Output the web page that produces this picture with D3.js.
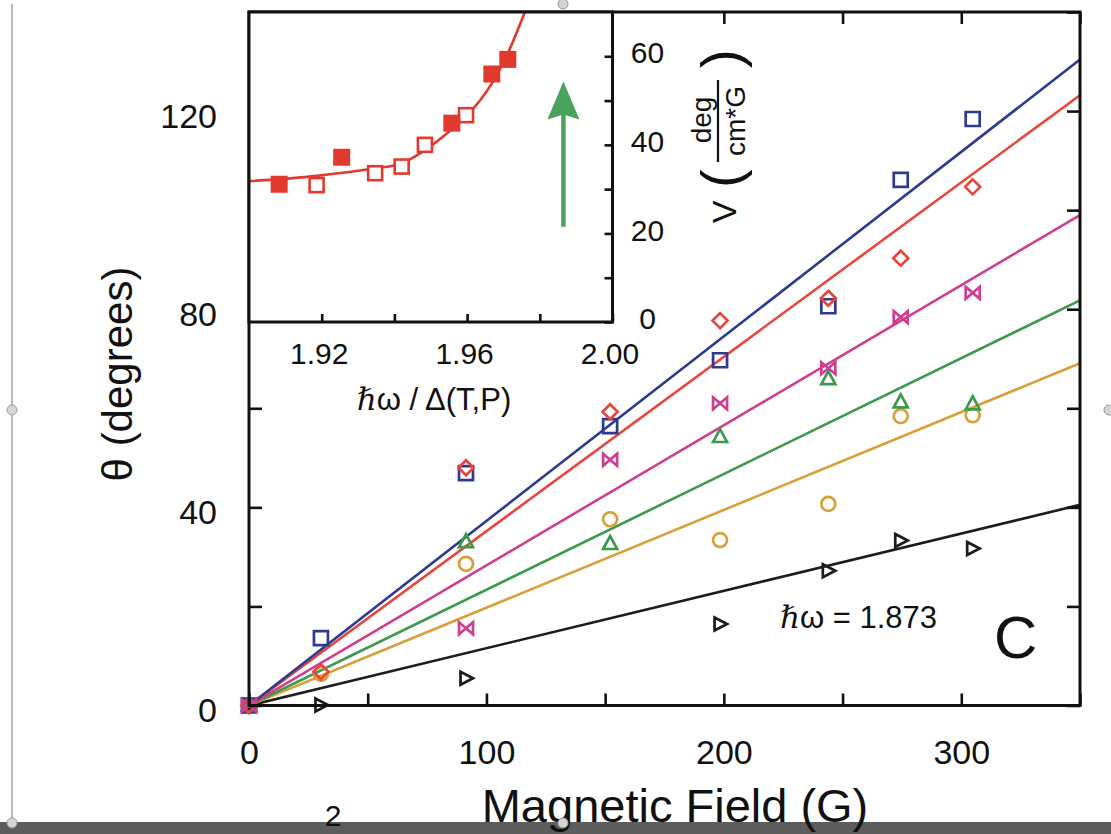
<!DOCTYPE html>
<html>
<head>
<meta charset="utf-8">
<script src="https://cdn.jsdelivr.net/npm/d3@7"></script>
<style>
  html, body { margin: 0; padding: 0; background: #fff; }
  svg { display: block; font-family: "Liberation Sans", Arial, Helvetica, sans-serif; }
</style>
</head>
<body>
<svg id="chart" width="1111" height="834"></svg>
<script>
// ---- Main panel: Faraday rotation angle vs magnetic field ----
// Blue squares
const squaresField = [0, 30.3, 91.4, 152.1, 198.4, 244, 274.5, 304.8];
const squaresTheta = [0, 13.6, 46.9, 56.4, 69.7, 80.6, 106.1, 118.4];
// Red diamonds
const diamondsField = [0, 30.3, 91.4, 152.1, 198.4, 244, 274.5, 304.8];
const diamondsTheta = [0, 6.8, 48.0, 59.3, 77.7, 82.2, 90.3, 104.7];
// Magenta bowties
const bowtiesField = [0, 91.4, 152.1, 198.4, 244, 274.5, 304.8];
const bowtiesTheta = [0, 15.6, 49.6, 61.0, 68.1, 78.4, 83.3];
// Green triangles
const trianglesField = [0, 91.4, 152.1, 198.4, 244, 274.5, 304.8];
const trianglesTheta = [0, 33.1, 32.7, 54.3, 66.0, 61.3, 60.9];
// Orange circles
const circlesField = [0, 30.3, 91.4, 152.1, 198.4, 244, 274.5, 304.8];
const circlesTheta = [0, 6.4, 28.6, 37.6, 33.4, 40.7, 58.4, 58.6];
// Black right-pointing triangles (lowest photon energy, ħω = 1.873)
const arrowsField = [0, 30.3, 91.4, 198.4, 244, 274.5, 304.8];
const arrowsTheta = [0, 0.1, 5.5, 16.45, 27.2, 33.3, 31.7];

// Linear fits through the origin: angle reached at the right edge (350 G)
const fitEndField = 350;
const fitEndTheta = { square: 130.4, diamond: 123.2, bowtie: 99.0, triangle: 81.8, circle: 69.1, arrow: 40.5 };

const fieldTicks = [0, 50, 100, 150, 200, 250, 300, 350];
const fieldLabels = [0, 100, 200, 300];
const thetaTicks = [0, 20, 40, 60, 80, 100, 120, 140];
const thetaLabels = [0, 40, 80, 120];

// ---- Inset: Verdet constant vs reduced photon energy ----
const insetFilledX = [1.9083, 1.9255, 1.9558, 1.9668, 1.9712];
const insetFilledV = [31.1, 37.2, 44.9, 56.0, 59.3];
const insetOpenX = [1.9186, 1.9347, 1.9420, 1.9484, 1.9597];
const insetOpenV = [30.9, 33.6, 35.1, 40.0, 46.7];
const insetCurveX = [1.9003, 1.9186, 1.9347, 1.9420, 1.9484, 1.9558, 1.9597, 1.9668, 1.9712, 1.9759];
const insetCurveV = [31.8, 33.0, 34.7, 35.8, 38.8, 43.5, 46.4, 53.9, 60.7, 70.0];
const insetXTicks = [1.92, 1.94, 1.96, 1.98, 2.00];
const insetXLabels = [1.92, 1.96, 2.00];
const insetYTicks = [0, 10, 20, 30, 40, 50, 60];
const insetYLabels = [0, 20, 40, 60];
const arrowX = 1.9865, arrowFrom = 21.5, arrowTo = 54.3;

const colors = {
  square: "#2e3a8f", diamond: "#e8453c", bowtie: "#cf3f8e",
  triangle: "#3b9a4b", circle: "#d9a03a", arrow: "#1c1c1c"
};

const svg = d3.select("#chart");

// Main scales
const x = d3.scaleLinear().domain([0, 350]).range([249, 1080]);
const y = d3.scaleLinear().domain([0, 140]).range([705.5, 12]);

// Editor frame decorations around the figure
svg.append("line").attr("x1", 12).attr("x2", 12).attr("y1", 4).attr("y2", 822)
  .attr("stroke", "#b9b9b9").attr("stroke-width", 2);

// Fitted lines
const fitOrder = ["arrow", "circle", "triangle", "bowtie", "diamond", "square"];
svg.append("g").selectAll("line").data(fitOrder).join("line")
  .attr("x1", x(0)).attr("y1", y(0))
  .attr("x2", x(fitEndField)).attr("y2", k => y(fitEndTheta[k]))
  .attr("stroke", k => colors[k]).attr("stroke-width", 2.6);

// Marker shapes
const shapes = {
  square: "M-7,-7H7V7H-7Z",
  diamond: "M0,-7.5L7.5,0L0,7.5L-7.5,0Z",
  bowtie: "M-7,-6L7,6L7,-6L-7,6Z",
  triangle: "M0,-7.5L7,5.5L-7,5.5Z",
  circle: "M7,0A7,7 0 1,1 -7,0A7,7 0 1,1 7,0Z",
  arrow: "M-5.5,-6.5L7,0L-5.5,6.5Z"
};
const markerSets = [
  ["arrow", arrowsField, arrowsTheta],
  ["circle", circlesField, circlesTheta],
  ["triangle", trianglesField, trianglesTheta],
  ["square", squaresField, squaresTheta],
  ["diamond", diamondsField, diamondsTheta],
  ["bowtie", bowtiesField, bowtiesTheta]
];
markerSets.forEach(([k, xs, ys]) => {
  svg.append("g").selectAll("path").data(xs.map((v, i) => [v, ys[i]])).join("path")
    .attr("d", shapes[k])
    .attr("transform", d => `translate(${x(d[0])},${y(d[1])})`)
    .attr("fill", "none").attr("stroke", colors[k]).attr("stroke-width", 2.7)
    .attr("stroke-linejoin", "miter");
});

// Main axes (inward ticks on all four sides)
function styleAxis(g) {
  g.select(".domain").remove();
  g.selectAll(".tick line").attr("stroke", "#111").attr("stroke-width", 2.6);
  g.selectAll("text").attr("fill", "#111").attr("font-size", 34)
    .attr("font-family", "Liberation Sans, Arial, sans-serif");
}
svg.append("g").attr("transform", `translate(0,${y(0)})`)
  .call(d3.axisBottom(x).tickValues(fieldTicks).tickSize(-12).tickPadding(34)
    .tickFormat(d => fieldLabels.includes(d) ? d : ""))
  .call(styleAxis);
svg.append("g").attr("transform", `translate(0,${y(140)})`)
  .call(d3.axisTop(x).tickValues(fieldTicks).tickSize(-12).tickFormat(""))
  .call(styleAxis);
svg.append("g").attr("transform", `translate(${x(0)},0)`)
  .call(d3.axisLeft(y).tickValues(thetaTicks).tickSize(-13).tickPadding(32)
    .tickFormat(d => thetaLabels.includes(d) ? d : ""))
  .call(styleAxis)
  .call(g => g.selectAll("text").attr("dy", "0.47em"));
svg.append("g").attr("transform", `translate(${x(350)},0)`)
  .call(d3.axisRight(y).tickValues(thetaTicks).tickSize(-13).tickFormat(""))
  .call(styleAxis);
svg.append("rect").attr("x", x(0)).attr("y", y(140))
  .attr("width", x(350) - x(0)).attr("height", y(0) - y(140))
  .attr("fill", "none").attr("stroke", "#111").attr("stroke-width", 3);

// Main labels
svg.append("text").attr("transform", `translate(132,374) rotate(-90)`)
  .attr("text-anchor", "middle").attr("font-size", 42).attr("fill", "#111")
  .text("θ (degrees)");
svg.append("text").attr("x", 780).attr("y", 628).attr("font-size", 31).attr("fill", "#111")
  .call(t => {
    t.append("tspan").attr("font-family", "DejaVu Serif, serif").attr("font-style", "italic").text("ℏ");
    t.append("tspan").text("ω = 1.873");
  });
svg.append("text").attr("x", 994).attr("y", 658).attr("font-size", 60).attr("fill", "#111").text("C");

// ---- Inset panel ----
const ix = d3.scaleLinear().domain([1.90, 2.00]).range([249, 612.5]);
const iy = d3.scaleLinear().domain([0, 70]).range([322, 12]);
const inset = svg.append("g");
inset.append("rect").attr("x", ix(1.90)).attr("y", iy(70))
  .attr("width", ix(2.00) - ix(1.90)).attr("height", iy(0) - iy(70)).attr("fill", "#fff");
inset.append("clipPath").attr("id", "insetClip").append("rect")
  .attr("x", ix(1.90)).attr("y", iy(70))
  .attr("width", ix(2.00) - ix(1.90)).attr("height", iy(0) - iy(70));

const curvePts = insetCurveX.map((v, i) => [v, insetCurveV[i]]);
inset.append("path").datum(curvePts)
  .attr("clip-path", "url(#insetClip)")
  .attr("d", d3.line().x(d => ix(d[0])).y(d => iy(d[1])).curve(d3.curveMonotoneX))
  .attr("fill", "none").attr("stroke", "#e2392f").attr("stroke-width", 2.6);

inset.append("g").selectAll("rect").data(insetOpenX.map((v, i) => [v, insetOpenV[i]])).join("rect")
  .attr("x", d => ix(d[0]) - 7).attr("y", d => iy(d[1]) - 7)
  .attr("width", 14).attr("height", 14)
  .attr("fill", "#fff").attr("stroke", "#e2392f").attr("stroke-width", 2.6);
inset.append("g").selectAll("rect").data(insetFilledX.map((v, i) => [v, insetFilledV[i]])).join("rect")
  .attr("x", d => ix(d[0]) - 8.5).attr("y", d => iy(d[1]) - 8.5)
  .attr("width", 17).attr("height", 17)
  .attr("fill", "#e2392f");

// Green arrow
inset.append("line").attr("x1", ix(arrowX)).attr("x2", ix(arrowX))
  .attr("y1", iy(arrowFrom)).attr("y2", iy(arrowTo) + 30)
  .attr("stroke", "#4aa35c").attr("stroke-width", 4.5);
inset.append("path")
  .attr("d", `M${ix(arrowX)},${iy(arrowTo)}L${ix(arrowX) + 16},${iy(arrowTo) + 38}L${ix(arrowX)},${iy(arrowTo) + 33}L${ix(arrowX) - 16},${iy(arrowTo) + 38}Z`)
  .attr("fill", "#4aa35c");

function styleInsetAxis(g) {
  g.select(".domain").remove();
  g.selectAll(".tick line").attr("stroke", "#111").attr("stroke-width", 2.6);
  g.selectAll("text").attr("fill", "#111").attr("font-size", 30)
    .attr("font-family", "Liberation Sans, Arial, sans-serif");
}
inset.append("g").attr("transform", `translate(0,${iy(0)})`)
  .call(d3.axisBottom(ix).tickValues(insetXTicks).tickSize(-8).tickPadding(21)
    .tickFormat(d => insetXLabels.some(v => Math.abs(v - d) < 1e-9) ? d3.format(".2f")(d) : ""))
  .call(styleInsetAxis)
  .call(g => g.selectAll("text").attr("dx", -3));
inset.append("g").attr("transform", `translate(${ix(2.00)},0)`)
  .call(d3.axisRight(iy).tickValues(insetYTicks).tickSize(-8)
    .tickFormat(d => insetYLabels.includes(d) ? d : ""))
  .call(styleInsetAxis)
  .call(g => g.selectAll("text").attr("x", 35).attr("text-anchor", "middle").attr("dy", "0.22em"));
inset.append("rect").attr("x", ix(1.90)).attr("y", iy(70))
  .attr("width", ix(2.00) - ix(1.90)).attr("height", iy(0) - iy(70))
  .attr("fill", "none").attr("stroke", "#111").attr("stroke-width", 3);

// Inset x label
svg.append("text").attr("x", 434).attr("y", 410).attr("text-anchor", "middle")
  .attr("font-size", 31).attr("fill", "#111")
  .call(t => {
    t.append("tspan").attr("font-family", "DejaVu Serif, serif").attr("font-style", "italic").text("ℏ");
    t.append("tspan").text("ω / Δ(T,P)");
  });

// Inset y label: V (deg / cm*G), read bottom to top
const vLab = svg.append("g").attr("transform", "translate(724,138) rotate(-90)").attr("fill", "#111");
vLab.append("text").attr("x", -74).attr("y", 12).attr("text-anchor", "middle").attr("font-size", 34).text("V");
vLab.append("text").attr("x", -50).attr("y", 16).attr("font-size", 56).attr("font-weight", 300).text("(");
vLab.append("text").attr("x", 18).attr("y", -13).attr("text-anchor", "middle").attr("font-size", 28).text("deg");
vLab.append("line").attr("x1", -24).attr("x2", 58).attr("y1", -6).attr("y2", -6)
  .attr("stroke", "#111").attr("stroke-width", 2.2);
vLab.append("text").attr("x", 17).attr("y", 21).attr("text-anchor", "middle").attr("font-size", 28).text("cm*G");
vLab.append("text").attr("x", 70).attr("y", 16).attr("font-size", 56).attr("font-weight", 300).text(")");

// Bottom bar of the page, axis title and page number
svg.append("rect").attr("x", 0).attr("y", 822).attr("width", 1111).attr("height", 12).attr("fill", "#5c5c5c");
svg.append("text").attr("x", 675).attr("y", 822).attr("text-anchor", "middle")
  .attr("font-size", 47).attr("fill", "#111").text("Magnetic Field (G)");
svg.append("text").attr("x", 333).attr("y", 826).attr("text-anchor", "middle")
  .attr("font-size", 30).attr("fill", "#111").text("2");

// Selection handles
const handles = [[12, 410], [12, 823], [563, 823], [563, 4], [1109, 410]];
svg.append("g").selectAll("circle").data(handles).join("circle")
  .attr("cx", d => d[0]).attr("cy", d => d[1]).attr("r", 5)
  .attr("fill", "#d6d6d6").attr("stroke", "#9a9a9a").attr("stroke-width", 1);
</script>
</body>
</html>
